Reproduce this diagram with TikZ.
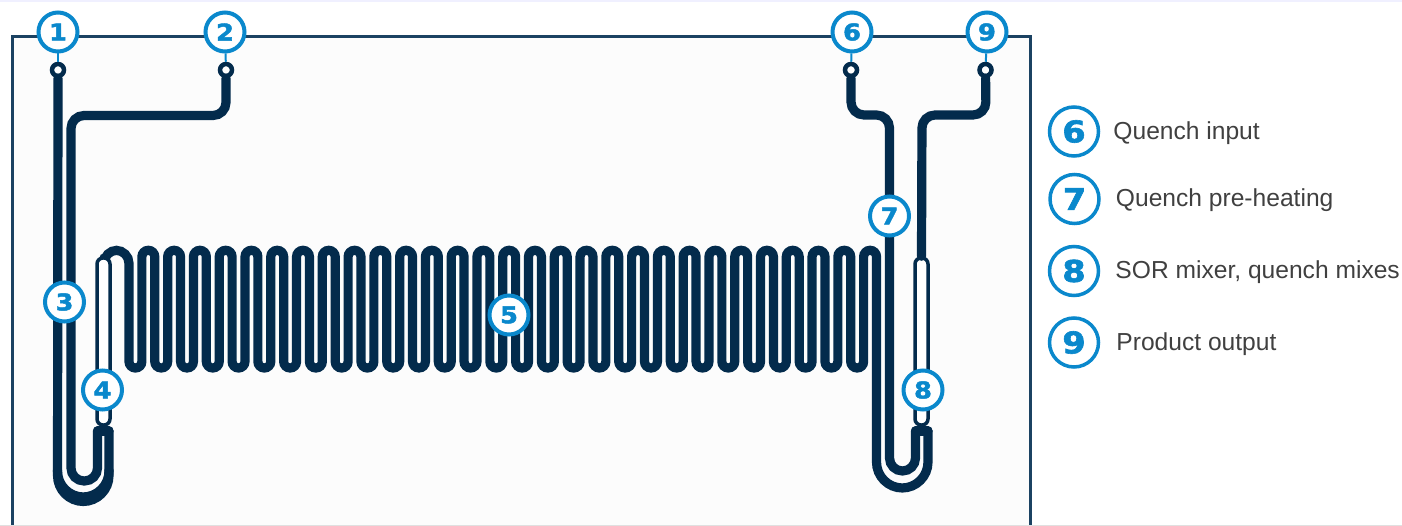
\documentclass[tikz,border=0pt]{standalone}
\usepackage{xcolor}
\usepackage{fontspec}
\setmainfont{Liberation Sans}
\newfontfamily\digitfont[BoldFont={DejaVu Sans Bold},BoldFeatures={FakeBold=2,FakeStretch=1.12}]{DejaVu Sans}
\usepackage{tikz}
\usetikzlibrary{positioning}
\definecolor{tubenavy}{HTML}{032B4C}
\definecolor{framenavy}{HTML}{1B4262}
\definecolor{badgeblue}{HTML}{0A88CC}
\definecolor{legendgray}{HTML}{404040}

\begin{document}
\begin{tikzpicture}[x=1pt, y=-1pt,
    tube/.style={draw=tubenavy, line width=9.2pt, rounded corners=13pt, line cap=round},
    badge/.style={circle, draw=badgeblue, fill=white, line width=4pt, minimum size=39pt, inner sep=0pt, text=badgeblue, font=\digitfont\bfseries\fontsize{23}{23}\selectfont},
    legendbadge/.style={badge, line width=3.5pt, minimum size=49pt, font=\digitfont\bfseries\fontsize{30}{30}\selectfont},
    legendtext/.style={right=#1, inner sep=0pt, anchor=west, yshift=-1.5pt, text=legendgray, font=\fontsize{24.6}{24.6}\selectfont},
    port/.style={circle, draw=tubenavy, fill=white, line width=4.5pt, minimum size=12pt, inner sep=0pt},
    mixer/.style={rectangle, rounded corners=6pt, draw=tubenavy, fill=white, line width=3.5pt, minimum width=13pt, inner sep=0pt},
    leader/.style={draw=badgeblue, line width=2pt}
]
\useasboundingbox (0,0) rectangle (1402,526);

% Background and frame
\fill[blue!6] (0,0) rectangle (1402,2);
\fill[black!12] (0,524.5) rectangle (1402,526);
\fill[black!1] (12,37) rectangle (1030,524.5);
\draw[framenavy, line width=3pt] (12,524.5) -- (12,37) -- (1030,37) -- (1030,524.5);

% Coil, running on into the right hand bend
\draw[tube] (104,258) -- (104,250.3) -- (129,250.3) [rounded corners=6.44pt]
    \foreach \k in {0,...,28} {
        -- ({129+12.888*(2*\k)},368) -- ({129+12.888*(2*\k+1)},368)
        -- ({129+12.888*(2*\k+1)},250.3) -- ({129+12.888*(2*\k+2)},250.3)
    }
    [rounded corners=26pt] -- (876.5,488) -- (928,488) -- (928,431);

% Mixers
\node[mixer, minimum height=167pt] (m4) at (103.5,341.5) {};
\node[mixer, minimum height=167pt] (m8) at (921.5,341.5) {};

% Ports
\node[port] (p1) at (58,70) {};
\node[port] (p2) at (226,70) {};
\node[port] (p6) at (851,70) {};
\node[port] (p9) at (985.5,70) {};

% Tubes
\draw[tube] (p1) [rounded corners=26pt] -- (57.5,501.5) -- (109,501.5) -- (109,431);
\draw[tube, rounded corners=26pt] (57.5,470) -- (57.5,497) -- (109,497) -- (109,470);
\draw[tube] (p2) -- (226,115.5) -- (71,115.5) -- (71,481) -- (97.5,481) -- (97.5,431);
\draw[tube] (p6) -- (851,115) -- (889.5,115) -- (889.5,471) -- (915.5,471) -- (915.5,431);
\draw[tube] (p9) -- (986,115) -- (922,115) -- (m8.north);

% Caps where the bends meet the mixers
\draw[tube] (97.5,431) -- (109,431);
\draw[tube] (915.5,431) -- (928,431);

% Badges
\node[badge] (b1) at (58,32) {1};
\node[badge] (b2) at (225,32) {2};
\node[badge] (b3) at (64.5,302) {3};
\node[badge] (b4) at (102.5,390) {4};
\node[badge] (b5) at (509,315) {5};
\node[badge] (b6) at (852,32) {6};
\node[badge] (b7) at (889.5,216) {7};
\node[badge] (b8) at (923,390) {8};
\node[badge] (b9) at (987,32) {9};

% Leaders
\draw[leader] (b1) -- (p1);
\draw[leader] (b2) -- (p2);
\draw[leader] (b6) -- (p6);
\draw[leader] (b9) -- (p9);

% Legend
\node[legendbadge] (l6) at (1074,131.5) {6};
\node[legendbadge] (l7) at (1074.5,199) {7};
\node[legendbadge] (l8) at (1074,271) {8};
\node[legendbadge] (l9) at (1074,342.5) {9};
\node[legendtext=13pt of l6] (t6) {Quench input};
\node[legendtext=15pt of l7] (t7) {Quench pre-heating};
\node[legendtext=15pt of l8] (t8) {SOR mixer, quench mixes};
\node[legendtext=16pt of l9] (t9) {Product output};

\end{tikzpicture}
\end{document}
